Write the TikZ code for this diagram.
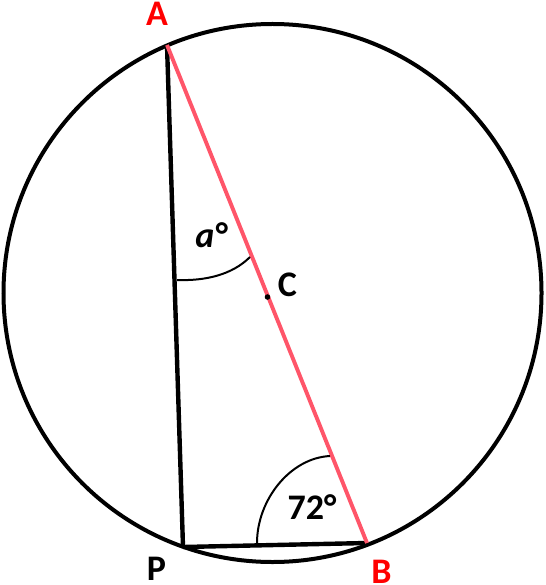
\documentclass[tikz,border=0pt]{standalone}
\usepackage{fontspec}
\setmainfont{Carlito}
\definecolor{chord}{RGB}{255,85,105}
\definecolor{lblred}{RGB}{255,0,0}
\begin{document}
\begin{tikzpicture}[x=1pt,y=1pt,
  lbl/.style={font=\fontsize{36}{40}\selectfont\bfseries, inner sep=0pt},
  circ/.style={line width=4pt},
  side/.style={line width=4.4pt},
  redside/.style={line width=3.9pt, draw=chord},
  anglearc/.style={line width=2pt}]
\useasboundingbox (0,0) rectangle (545,-585);
\coordinate (O) at (272.5,-293);
\coordinate (A) at (167,-45);
\coordinate (B) at (367,-543);
\coordinate (P) at (183,-547);
\coordinate (Cdot) at (267.5,-297);
\coordinate (a1) at (177,-280);
\coordinate (a2) at (250,-257);
\coordinate (b1) at (257,-543);
\coordinate (b2) at (330,-456);
\draw[circ] (O) circle[radius=269];
\draw[side] (A) -- (P);
\draw[side] (P) -- (B);
\draw[redside] (A) -- (B);
\draw[anglearc] (a1) .. controls (205,-281) and (232,-275) .. (a2);
\draw[anglearc] (b1) .. controls (257,-500) and (290,-458) .. (b2);
\fill (Cdot) circle[radius=2.8];
\node[lbl, text=lblred] (lA) at (157,-14) {A};
\node[lbl, text=lblred] (lB) at (381.5,-571.5) {B};
\node[lbl] (lP) at (156.5,-569) {P};
\node[lbl] (lC) at (287.5,-285) {C};
\node[lbl] (la) at (211,-235) {\itshape a°};
\node[lbl] (l72) at (312,-507) {72°};
\end{tikzpicture}
\end{document}
